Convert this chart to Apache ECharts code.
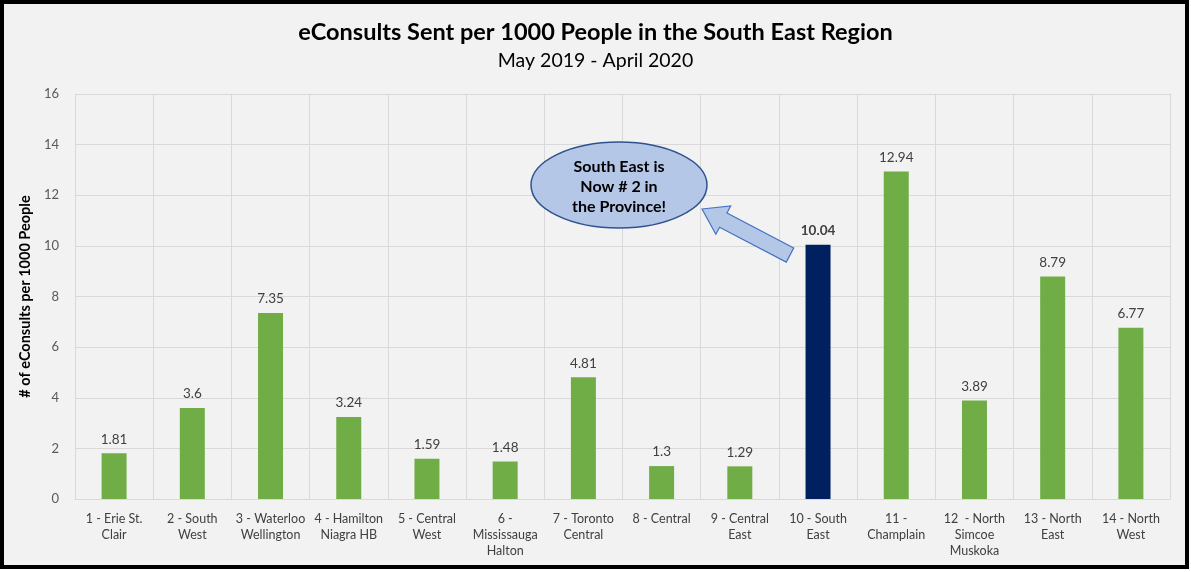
<!DOCTYPE html>
<html><head><meta charset="utf-8">
<script src="https://cdn.jsdelivr.net/npm/echarts@6/dist/echarts.min.js"></script>
<style>html,body{margin:0;padding:0;background:#fff}#c{width:1191px;height:572px}</style>
</head><body><div id="c"></div>
<script>
const categories = ['1 - Erie St.\nClair','2 - South\nWest','3 - Waterloo\nWellington','4 - Hamilton\nNiagra HB','5 - Central\nWest','6 -\nMississauga\nHalton','7 - Toronto\nCentral','8 - Central','9 - Central\nEast','10 - South\nEast','11 -\nChamplain','12  - North\nSimcoe\nMuskoka','13 - North\nEast','14 - North\nWest'];
const values = [1.81,3.6,7.35,3.24,1.59,1.48,4.81,1.3,1.29,10.04,12.94,3.89,8.79,6.77];
const highlightIndex = 9;
const yTicks = [0,2,4,6,8,10,12,14,16];

const FONT = 'Lato, "Open Sans", sans-serif';
const chart = echarts.init(document.getElementById('c'));

// block arrow for annotation
const tip = [702, 209], tail = [790, 255];
function arrowPts() {
  const dx = tip[0]-tail[0], dy = tip[1]-tail[1];
  const L = Math.hypot(dx, dy), ux = dx/L, uy = dy/L, px = -uy, py = ux;
  const hl = 24, hw = 16, sw = 8;
  const bx = tip[0]-ux*hl, by = tip[1]-uy*hl;
  return [
    tip,
    [bx+px*hw, by+py*hw],
    [bx+px*sw, by+py*sw],
    [tail[0]+px*sw, tail[1]+py*sw],
    [tail[0]-px*sw, tail[1]-py*sw],
    [bx-px*sw, by-py*sw],
    [bx-px*hw, by-py*hw]
  ];
}

chart.setOption({
  backgroundColor: '#ffffff',
  textStyle: {fontFamily: FONT},
  title: {
    text: 'eConsults Sent per 1000 People in the South East Region',
    subtext: 'May 2019 - April 2020',
    left: 'center', top: 15, itemGap: 7,
    textStyle: {fontFamily: FONT, fontSize: 23.5, fontWeight: 'bold', color: '#000'},
    subtextStyle: {fontFamily: FONT, fontSize: 19.5, color: '#000'}
  },
  graphic: [
    {type: 'rect', z: -10, shape: {x: 2, y: 2, width: 1185, height: 565}, style: {fill: '#f2f2f2', stroke: '#000', lineWidth: 4}},
    {type: 'polygon', z: 10, shape: {points: arrowPts()}, style: {fill: '#b4c7e7', stroke: '#4472c4', lineWidth: 1.2}},
    {type: 'ellipse', z: 10, shape: {cx: 619, cy: 185, rx: 88, ry: 43}, style: {fill: '#b4c7e7', stroke: '#2f528f', lineWidth: 1.5}},
    {type: 'text', z: 11, x: 619, y: 187, style: {text: 'South East is\nNow # 2 in\nthe Province!', font: 'bold 16px ' + FONT, fill: '#000', align: 'center', verticalAlign: 'middle', lineHeight: 20}}
  ],
  grid: {left: 75, right: 21, top: 94, bottom: 73},
  xAxis: {
    type: 'category', data: categories,
    axisLine: {lineStyle: {color: '#d9d9d9'}},
    axisTick: {show: false},
    splitLine: {show: true, lineStyle: {color: '#d9d9d9'}},
    axisLabel: {interval: 0, color: '#404040', fontSize: 12.5, lineHeight: 16, margin: 12, fontFamily: FONT}
  },
  yAxis: {
    type: 'value', min: 0, max: 16, interval: 2,
    name: '# of eConsults per 1000 People', nameLocation: 'middle', nameGap: 42,
    nameTextStyle: {fontFamily: FONT, fontSize: 14.5, fontWeight: 'bold', color: '#000'},
    axisLine: {show: false}, axisTick: {show: false},
    splitLine: {lineStyle: {color: '#d9d9d9'}},
    axisLabel: {color: '#595959', fontSize: 13, margin: 16, fontFamily: FONT,
      formatter: v => yTicks.includes(v) ? String(v) : ''}
  },
  series: [{
    type: 'bar', barWidth: 25,
    data: values.map((v, i) => ({
      value: v,
      itemStyle: {color: i === highlightIndex ? '#002060' : '#70ad47'},
      label: {fontWeight: i === highlightIndex ? 'bold' : 'normal'}
    })),
    label: {show: true, position: 'top', distance: 7, color: '#404040', fontSize: 13.5, fontFamily: FONT}
  }]
});
</script></body></html>
